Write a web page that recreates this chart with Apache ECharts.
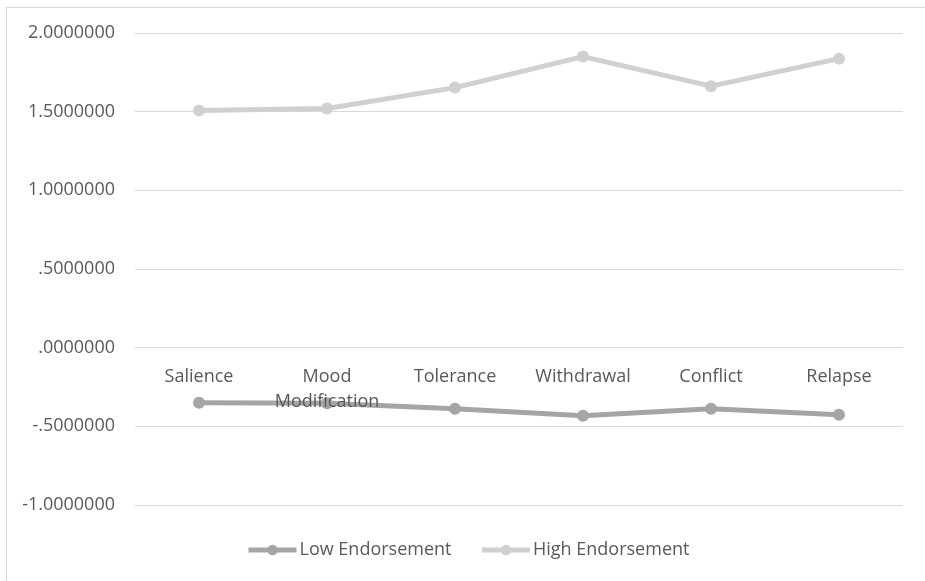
<!DOCTYPE html>
<html>
<head>
<meta charset="utf-8">
<script src="https://cdn.jsdelivr.net/npm/echarts@6/dist/echarts.min.js"></script>
<style>
  html, body { margin: 0; padding: 0; background: #fff; }
  #chart { width: 925px; height: 581px; }
  #frame { position: absolute; left: 6px; top: 7px; width: 940px; height: 600px; border: 1px solid #d9d9d9; pointer-events: none; }
</style>
</head>
<body>
<div id="chart"></div>
<div id="frame"></div>
<script>
// Dimension names along the x axis
const categories = ['Salience', 'Mood\nModification', 'Tolerance', 'Withdrawal', 'Conflict', 'Relapse'];
// Mean scores per group
const lowEndorsement = [-0.350, -0.354, -0.388, -0.432, -0.388, -0.426];
const highEndorsement = [1.507, 1.520, 1.653, 1.850, 1.662, 1.837];
// Value axis settings
const yMin = -1.0, yMax = 2.0, yStep = 0.5;

function fmt(v) {
  let s = Math.abs(v).toFixed(7);
  if (s.startsWith('0')) s = s.slice(1);
  return (v < 0 ? '-' : '') + s;
}

const font = '"Open Sans", "Liberation Sans", sans-serif';
const gridTop = 33, gridBottom = 76, chartH = 581;
// Lift the category axis from the grid bottom up to the zero line
const plotH = chartH - gridTop - gridBottom;
const zeroLift = plotH * (0 - yMin) / (yMax - yMin);

const chart = echarts.init(document.getElementById('chart'));
chart.setOption({
  animation: false,
  textStyle: { fontFamily: font },
  grid: { left: 135, right: 22, top: gridTop, bottom: gridBottom },
  legend: {
    bottom: 17,
    left: 241,
    itemWidth: 48,
    itemHeight: 13,
    itemGap: 28,
    lineStyle: { width: 5 },
    textStyle: { color: '#595959', fontSize: 18, fontFamily: font, padding: [0, 0, 0, -2] },
    data: ['Low Endorsement', 'High Endorsement']
  },
  xAxis: {
    type: 'category',
    data: categories,
    position: 'bottom',
    offset: -zeroLift,
    z: 5,
    axisLine: { show: false, onZero: false },
    axisTick: { show: false },
    axisLabel: { color: '#595959', fontSize: 18, margin: 17, lineHeight: 25, interval: 0 }
  },
  yAxis: {
    type: 'value',
    min: yMin,
    max: yMax,
    interval: yStep,
    axisLine: { show: false },
    axisTick: { show: false },
    splitLine: { lineStyle: { color: '#d9d9d9', width: 1 } },
    axisLabel: { color: '#595959', fontSize: 18, margin: 20, formatter: fmt }
  },
  series: [
    {
      name: 'Low Endorsement',
      type: 'line',
      data: lowEndorsement,
      symbol: 'circle',
      symbolSize: 12,
      color: '#a5a5a5',
      lineStyle: { width: 5, color: '#a5a5a5' },
      itemStyle: { color: '#a5a5a5' }
    },
    {
      name: 'High Endorsement',
      type: 'line',
      data: highEndorsement,
      symbol: 'circle',
      symbolSize: 12,
      color: '#d0d0d0',
      lineStyle: { width: 5, color: '#d0d0d0' },
      itemStyle: { color: '#d0d0d0' }
    }
  ]
});
</script>
</body>
</html>
